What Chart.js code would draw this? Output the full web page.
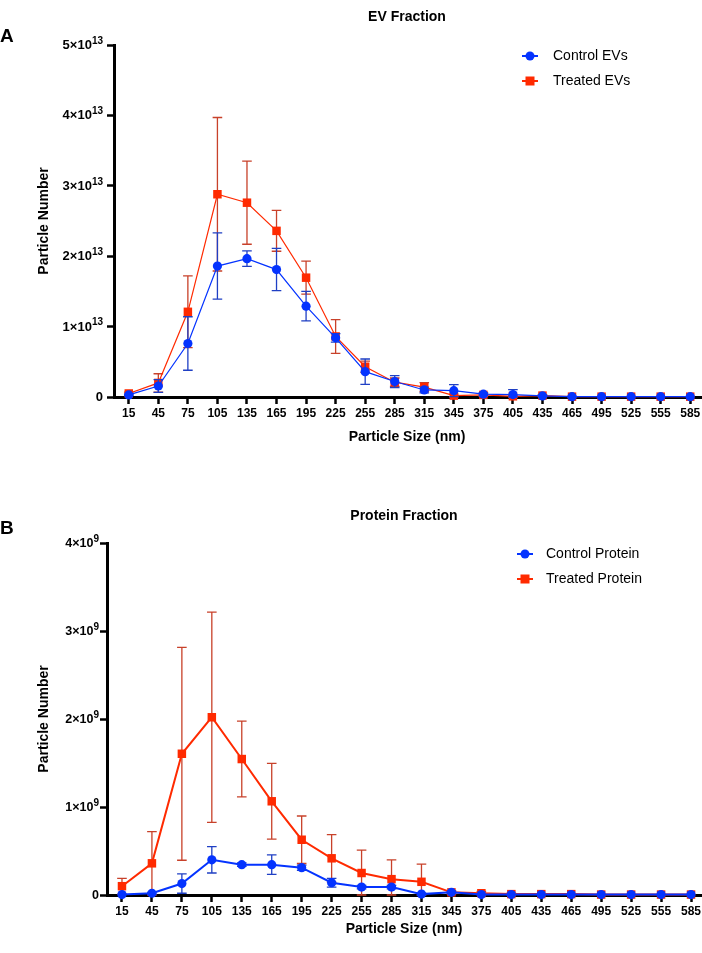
<!DOCTYPE html>
<html><head><meta charset="utf-8">
<script src="https://cdn.jsdelivr.net/npm/chart.js@4"></script>
<style>
html,body{margin:0;padding:0;background:#fff;width:702px;height:953px;overflow:hidden;}
canvas{position:absolute;left:0;}
#ca{top:0;} #cb{top:490px;}
</style>
</head><body>
<canvas id="ca" width="711" height="449"></canvas>
<canvas id="cb" width="712" height="451"></canvas>
<script>
// ---- data ----
const sizes = ['15','45','75','105','135','165','195','225','255','285','315','345','375','405','435','465','495','525','555','585'];

const evControl      = [0.03e13,0.156e13,0.76e13,1.86e13,1.965e13,1.81e13,1.29e13,0.84e13,0.36e13,0.22e13,0.10e13,0.09e13,0.04e13,0.035e13,0.015e13,0.005e13,0.005e13,0.005e13,0.005e13,0.005e13];
const evControlErr   = [0.01e13,0.09e13,0.38e13,0.47e13,0.11e13,0.30e13,0.21e13,0.06e13,0.18e13,0.085e13,0.04e13,0.085e13,0.02e13,0.07e13,0.01e13,0.005e13,0,0,0,0];
const evTreated      = [0.05e13,0.20e13,1.21e13,2.88e13,2.76e13,2.36e13,1.695e13,0.86e13,0.43e13,0.21e13,0.14e13,0.02e13,0.03e13,0.01e13,0.02e13,0.005e13,0.005e13,0.005e13,0.005e13,0.005e13];
const evTreatedErr   = [0.02e13,0.13e13,0.51e13,1.09e13,0.59e13,0.29e13,0.235e13,0.24e13,0.08e13,0.06e13,0.065e13,0.02e13,0.02e13,0.01e13,0.01e13,0,0,0,0,0];

const protControl    = [0.005e9,0.02e9,0.13e9,0.40e9,0.345e9,0.345e9,0.31e9,0.14e9,0.09e9,0.09e9,0.01e9,0.03e9,0.005e9,0.005e9,0.005e9,0.005e9,0.005e9,0.005e9,0.005e9,0.005e9];
const protControlErr = [0,0.01e9,0.11e9,0.15e9,0.02e9,0.11e9,0.03e9,0.05e9,0.02e9,0.02e9,0.01e9,0.01e9,0,0,0,0,0,0,0,0];
const protTreated    = [0.10e9,0.36e9,1.605e9,2.02e9,1.545e9,1.065e9,0.628e9,0.417e9,0.25e9,0.18e9,0.15e9,0.03e9,0.02e9,0.01e9,0.01e9,0.01e9,0.005e9,0.005e9,0.005e9,0.005e9];
const protTreatedErr = [0.09e9,0.36e9,1.21e9,1.195e9,0.43e9,0.43e9,0.27e9,0.27e9,0.26e9,0.22e9,0.20e9,0.02e9,0.02e9,0.01e9,0,0,0,0,0,0];

// tick labels: [mantissa text, exponent text]
const evTicks   = [['0',''],['1×10','13'],['2×10','13'],['3×10','13'],['4×10','13'],['5×10','13']];
const protTicks = [['0',''],['1×10','9'],['2×10','9'],['3×10','9'],['4×10','9']];

// ---- styling ----
const FONT = "'Liberation Sans', Arial, Helvetica, sans-serif";
const BLUE = '#0433ff', RED = '#ff2a00';
const BLUE_ERR = '#1f3fc4', RED_ERR = '#c8412a';

const errorBars = {
  id: 'errorBars',
  beforeDatasetDraw(chart, args) {
    const ds = chart.data.datasets[args.index];
    if (!ds.err) return;
    const y = chart.scales.y, ctx = chart.ctx;
    ctx.save();
    ctx.strokeStyle = ds.errColor;
    ctx.lineWidth = 1.3;
    args.meta.data.forEach((pt, i) => {
      const e = ds.err[i];
      if (!e) return;
      const v = ds.data[i];
      const yt = y.getPixelForValue(v + e), yb = y.getPixelForValue(Math.max(0, v - e));
      const x = pt.x, c = 4.8;
      ctx.beginPath();
      ctx.moveTo(x, yt); ctx.lineTo(x, yb);
      ctx.moveTo(x - c, yt); ctx.lineTo(x + c, yt);
      ctx.moveTo(x - c, yb); ctx.lineTo(x + c, yb);
      ctx.stroke();
    });
    ctx.restore();
  }
};

const decor = {
  id: 'decor',
  afterDraw(chart, args, o) {
    const ctx = chart.ctx;
    ctx.save();
    ctx.fillStyle = '#000';
    ctx.textBaseline = 'middle';
    ctx.font = 'bold 19px ' + FONT;
    ctx.textAlign = 'left';
    ctx.fillText(o.letter, 0, o.letterY);
    ctx.font = 'bold 14px ' + FONT;
    ctx.textAlign = 'center';
    ctx.fillText(o.title, o.titleX, o.titleY);
    ctx.fillText('Particle Size (nm)', o.titleX, o.xTitleY);

    // y tick labels with superscript exponents
    const ys = chart.scales.y;
    ctx.textAlign = 'right';
    ys.ticks.forEach(t => {
      const lab = o.ticks[Math.round(t.value / o.step)];
      if (!lab) return;
      const py = ys.getPixelForValue(t.value);
      let xr = o.tickRight;
      if (lab[1]) {
        ctx.font = 'bold ' + o.supSize + 'px ' + FONT;
        const w = ctx.measureText(lab[1]).width;
        ctx.fillText(lab[1], xr, py - o.supRaise);
        xr -= w;
      }
      ctx.font = 'bold ' + o.tickSize + 'px ' + FONT;
      ctx.fillText(lab[0], xr, py + 0.5);
    });

    // legend
    ctx.font = '14px ' + FONT;
    ctx.textAlign = 'left';
    chart.data.datasets.forEach((ds, i) => {
      const ly = o.legendY[i], lx = o.legendX;
      ctx.strokeStyle = ds.borderColor;
      ctx.lineWidth = 2;
      ctx.beginPath(); ctx.moveTo(lx - 8, ly); ctx.lineTo(lx + 8, ly); ctx.stroke();
      ctx.fillStyle = ds.pointBackgroundColor;
      if (ds.pointStyle === 'circle') {
        ctx.beginPath(); ctx.arc(lx, ly, 4.5, 0, Math.PI * 2); ctx.fill();
      } else {
        ctx.fillRect(lx - 4.5, ly - 4.5, 9, 9);
      }
      ctx.fillStyle = '#000';
      ctx.fillText(ds.label, o.textX, ly);
    });
    ctx.restore();
  }
};

function axisCommon() {
  return {
    grid: { display: true, drawOnChartArea: false, drawTicks: true, tickLength: 7, tickWidth: 2.5, color: '#000' },
    border: { display: true, width: 3, color: '#000' }
  };
}

function makeChart(id, p) {
  return new Chart(document.getElementById(id), {
    type: 'line',
    data: {
      labels: sizes,
      datasets: [
        { label: p.names[0], data: p.c, err: p.ce, errColor: BLUE_ERR, borderColor: BLUE, backgroundColor: BLUE,
          pointBackgroundColor: BLUE, pointBorderColor: BLUE, pointStyle: 'circle', pointRadius: 4.6, pointBorderWidth: 0,
          borderWidth: p.lw, tension: 0, clip: false },
        { label: p.names[1], data: p.t, err: p.te, errColor: RED_ERR, borderColor: RED, backgroundColor: RED,
          pointBackgroundColor: RED, pointBorderColor: RED, pointStyle: 'rect', pointRadius: 6, pointBorderWidth: 0,
          borderWidth: p.lw, tension: 0, clip: false }
      ]
    },
    options: {
      responsive: false, animation: false, events: [],
      layout: { padding: { top: p.padTop, left: 0, right: 0, bottom: 0 } },
      plugins: { legend: { display: false }, tooltip: { enabled: false }, decor: p.decor },
      scales: {
        x: Object.assign(axisCommon(), {
          type: 'category', offset: true,
          ticks: { color: '#000', font: { family: FONT, size: 12, weight: 'bold' }, padding: 2, maxRotation: 0, autoSkip: false },
          title: { display: false },
          afterFit(s) { s.height = p.xh; s.paddingLeft = 0; s.paddingRight = 0; }
        }),
        y: Object.assign(axisCommon(), {
          min: 0, max: p.max,
          ticks: { stepSize: p.step, display: false },
          title: { display: true, text: 'Particle Number', color: '#000', font: { family: FONT, size: 14, weight: 'bold' }, padding: { top: 36, bottom: 0 } },
          afterFit(s) { s.width = p.yw; s.paddingTop = 0; s.paddingBottom = 0; }
        })
      }
    },
    plugins: [errorBars, decor]
  });
}

makeChart('ca', {
  names: ['Control EVs', 'Treated EVs'], c: evControl, ce: evControlErr, t: evTreated, te: evTreatedErr,
  lw: 1.2, padTop: 45, xh: 52, yw: 114, max: 5e13, step: 1e13,
  decor: { letter: 'A', letterY: 37, title: 'EV Fraction', titleX: 407, titleY: 17, xTitleY: 437, legendX: 530, legendY: [56, 81], textX: 553,
           ticks: evTicks, step: 1e13, tickRight: 103, tickSize: 13, supSize: 10, supRaise: 4 }
});
makeChart('cb', {
  names: ['Control Protein', 'Treated Protein'], c: protControl, ce: protControlErr, t: protTreated, te: protTreatedErr,
  lw: 2, padTop: 53, xh: 46, yw: 107, max: 4e9, step: 1e9,
  decor: { letter: 'B', letterY: 39, title: 'Protein Fraction', titleX: 404, titleY: 26, xTitleY: 439, legendX: 525, legendY: [64, 89], textX: 546,
           ticks: protTicks, step: 1e9, tickRight: 99, tickSize: 12.5, supSize: 10, supRaise: 4 }
});
</script>
</body></html>
